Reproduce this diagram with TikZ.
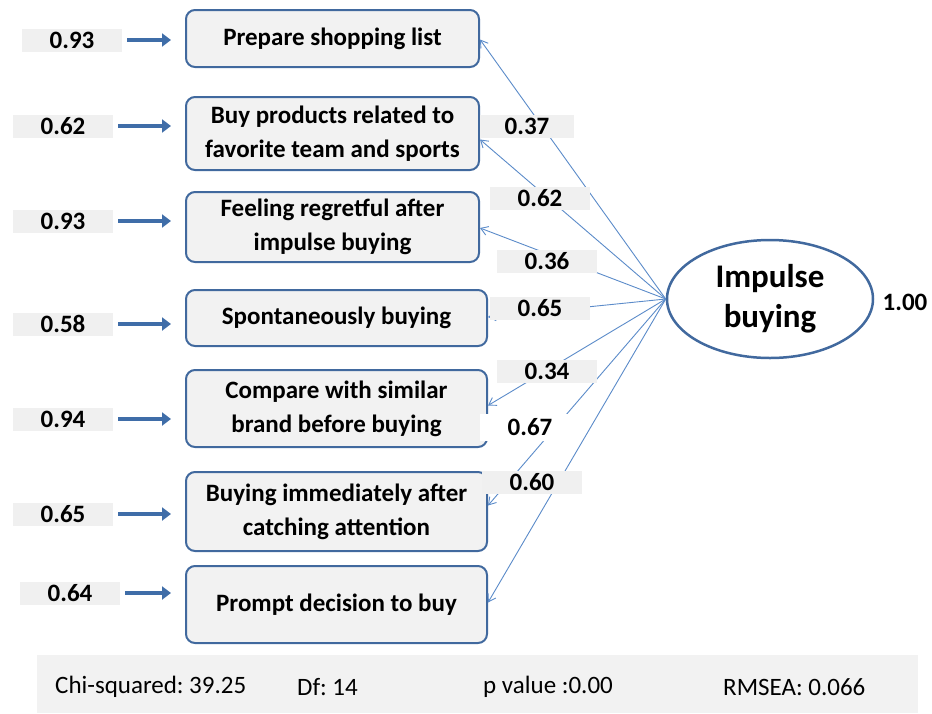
\documentclass[tikz,border=0pt]{standalone}
\usepackage{fontspec}
\setmainfont{Carlito}
\usetikzlibrary{shapes.geometric,arrows.meta}
\definecolor{boxline}{HTML}{41699E}
\definecolor{boxfill}{HTML}{F2F2F2}
\definecolor{labfill}{HTML}{F0F0F0}
\definecolor{arrowblue}{HTML}{3F6DA8}
\definecolor{thinblue}{HTML}{5B8BC9}

\begin{document}
\begin{tikzpicture}
  [x=1pt,y=-1pt,
   itembox/.style={draw=boxline,line width=2pt,fill=boxfill,rounded corners=9pt,inner sep=0pt,align=center,font=\bfseries\fontsize{25}{34}\selectfont},
   numlab/.style={fill=labfill,minimum width=100pt,minimum height=23pt,inner sep=0pt,font=\bfseries\fontsize{25}{30}\selectfont},
   statlab/.style={anchor=west,inner sep=0pt,font=\fontsize{25}{30}\selectfont},
   errarrow/.style={draw=arrowblue,line width=4.5pt,-{Triangle[length=9pt,width=13pt]}},
   loadline/.style={draw=thinblue,line width=0.9pt,-{Straight Barb[length=7pt,width=9pt]}}]
  \useasboundingbox (0,0) rectangle (932,713);
  % observed items
  \node[itembox,minimum width=293pt,minimum height=57pt] (i1) at (332.5,38.5) {Prepare shopping list};
  \node[itembox,minimum width=293pt,minimum height=73pt] (i2) at (332.5,133.5) {Buy products related to\\favorite team and sports};
  \node[itembox,minimum width=293pt,minimum height=70pt] (i3) at (332.5,227) {Feeling regretful after\\impulse buying};
  \node[itembox,minimum width=301pt,minimum height=56pt] (i4) at (336.5,318) {Spontaneously buying};
  \node[itembox,minimum width=301pt,minimum height=77pt] (i5) at (336.5,408.5) {Compare with similar\\brand before buying};
  \node[itembox,minimum width=301pt,minimum height=79pt] (i6) at (336.5,511.5) {Buying immediately after\\catching attention};
  \node[itembox,minimum width=301pt,minimum height=77pt] (i7) at (336.5,604.5) {Prompt decision to buy};
  % error terms
  \node[numlab] (e1) at (72,40) {0.93};
  \node[numlab] (e2) at (63,126) {0.62};
  \node[numlab] (e3) at (63,221) {0.93};
  \node[numlab] (e4) at (63,324) {0.58};
  \node[numlab] (e5) at (63,419) {0.94};
  \node[numlab] (e6) at (63,514) {0.65};
  \node[numlab] (e7) at (70,593) {0.64};
  \foreach \n in {1,...,7}
    \draw[errarrow,shorten <=5pt,shorten >=14pt] (e\n.east) -- (e\n.east -| i\n.west);
  % latent factor
  \node[ellipse,draw=boxline,line width=2.5pt,fill=white,minimum width=206pt,minimum height=118pt,inner sep=0pt,align=center,font=\bfseries\fontsize{33}{40}\selectfont] (imp) at (770,299) {Impulse\\buying};
  \node[font=\bfseries\fontsize{25}{30}\selectfont] (var) at (905,302) {1.00};
  \foreach \n/\dy in {1/-1,2/-6,3/-1,4/1,5/3,6/6,7/2}
    \draw[loadline] (imp.west) -- ([yshift=\dy pt]i\n.east);
  % loadings
  \node[numlab,minimum width=94pt] (l1) at (527,126) {0.37};
  \node[numlab] (l2) at (540,198) {0.62};
  \node[numlab] (l3) at (547,261) {0.36};
  \node[numlab] (l4) at (540,308) {0.65};
  \node[numlab] (l5) at (547,371) {0.34};
  \node[numlab,fill=white,minimum height=27pt] (l6) at (530,427) {0.67};
  \node[numlab] (l7) at (532,482) {0.60};
  % fit indices
  \node[fill=boxfill,minimum width=881pt,minimum height=58pt,inner sep=0pt] (fit) at (477.5,684) {};
  \node[statlab] (chi) at (55,687) {Chi-squared:\hspace{-2pt} 39.25};
  \node[statlab] (df) at (297,687) {Df:\hspace{-2pt} 14};
  \node[statlab] (pv) at (483,687) {p value :0.00};
  \node[statlab] (rmsea) at (723,687) {RMSEA: 0.066};
\end{tikzpicture}
\end{document}
